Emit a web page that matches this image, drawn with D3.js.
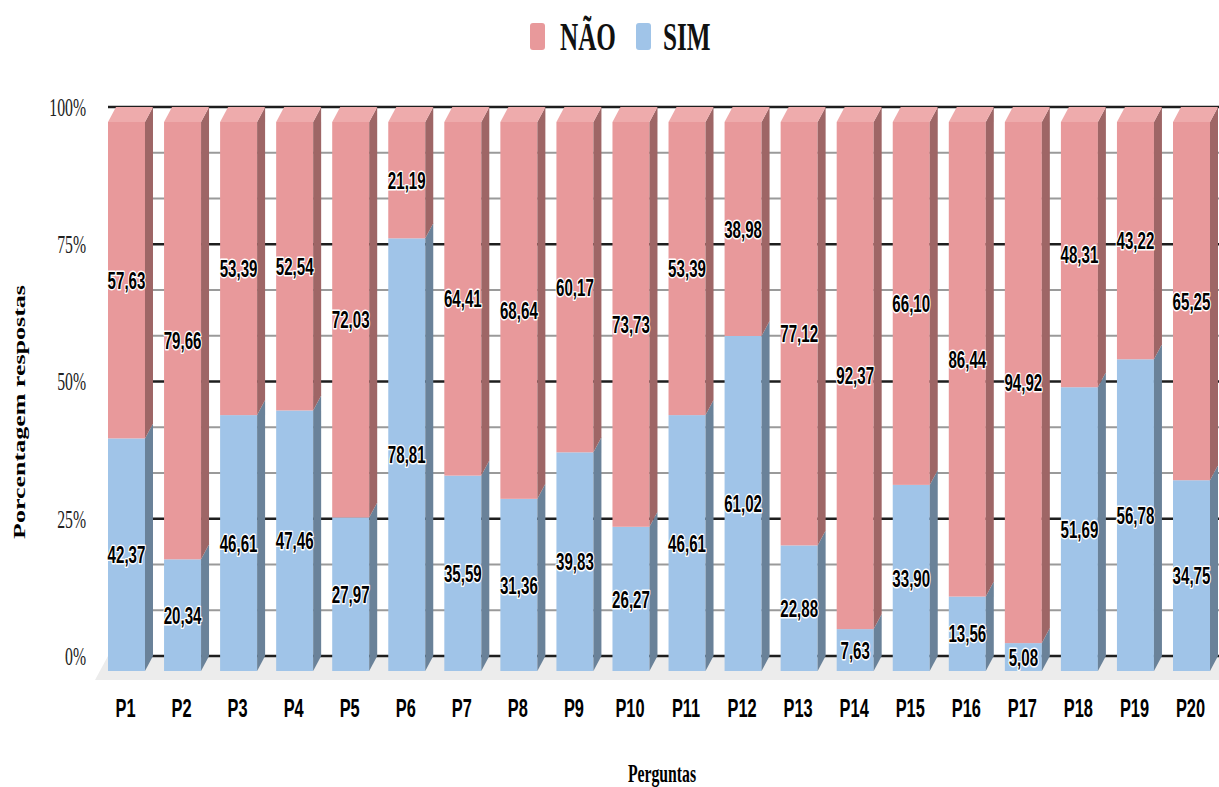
<!DOCTYPE html>
<html>
<head>
<meta charset="utf-8">
<script src="https://cdn.jsdelivr.net/npm/d3@7"></script>
<style>
  html, body { margin: 0; padding: 0; background: #fff; }
  svg { display: block; }
</style>
</head>
<body>
<svg id="chart" width="1219" height="787"></svg>
<script>
// Survey answers per question (percent of respondents)
const categories = ["P1","P2","P3","P4","P5","P6","P7","P8","P9","P10",
                    "P11","P12","P13","P14","P15","P16","P17","P18","P19","P20"];
const simValues = [42.37, 20.34, 46.61, 47.46, 27.97, 78.81, 35.59, 31.36, 39.83, 26.27,
                   46.61, 61.02, 22.88, 7.63, 33.90, 13.56, 5.08, 51.69, 56.78, 34.75];
const naoValues = [57.63, 79.66, 53.39, 52.54, 72.03, 21.19, 64.41, 68.64, 60.17, 73.73,
                   53.39, 38.98, 77.12, 92.37, 66.10, 86.44, 94.92, 48.31, 43.22, 65.25];
const seriesNames = ["NÃO", "SIM"];
const yTickValues = [0, 25, 50, 75, 100];
const yTickLabels = ["0%", "25%", "50%", "75%", "100%"];

const svg = d3.select("#chart");
const W = 1219;

// 3D depth offset of the bars
const DX = 8, DY = -15;
const SQ = 0.63; // horizontal squeeze applied to all text

const colors = {
  simFront: "#a0c4e8", simSide: "#6a8299",
  naoFront: "#e8999b", naoSide: "#9e6666", naoTop: "#eeabac"
};

const x = d3.scaleBand().domain(categories).range([108, 1210])
  .paddingInner(0.34).paddingOuter(0);
const y = d3.scaleLinear().domain([0, 100]).range([671, 122]);

// floor
const floorBack = y(0) + DY;
svg.append("polygon")
  .attr("points", [[95, 680], [W, 680], [W, floorBack], [108, floorBack]].join(" "))
  .attr("fill", "#ececec");

// gridlines on the back wall: major every 25%, minor in thirds between
const gridVals = d3.range(0, 13).map(i => i * 100 / 12);
svg.append("g").selectAll("line").data(gridVals).join("line")
  .attr("x1", 108).attr("x2", W)
  .attr("y1", d => y(d) + DY).attr("y2", d => y(d) + DY)
  .attr("stroke", (d, i) => i % 3 === 0 ? "#1e1e1e" : "#9a9a9a")
  .attr("stroke-width", (d, i) => i % 3 === 0 ? 2.5 : 2);

// y tick labels
svg.append("g").selectAll("text").data(yTickValues).join("text")
  .attr("transform", d => `translate(86,${y(d) + DY}) scale(${SQ},1)`)
  .attr("dy", "0.35em")
  .attr("text-anchor", "end")
  .attr("font-family", "'Liberation Serif', 'Times New Roman', serif")
  .attr("font-size", 25)
  .attr("fill", "#222")
  .text((d, i) => yTickLabels[i]);

// bars
const rows = categories.map((c, i) => ({ c, sim: simValues[i], nao: naoValues[i] }));
const bw = x.bandwidth();

function side(x1, yTop, yBot) {
  return [[x1, yTop], [x1 + DX, yTop + DY], [x1 + DX, yBot + DY], [x1, yBot]].join(" ");
}

const bars = svg.append("g").selectAll("g").data(rows).join("g");

bars.each(function (d) {
  const g = d3.select(this);
  const x0 = x(d.c), x1 = x0 + bw;
  const ySim = y(d.sim), yTop = y(d.sim + d.nao);
  // SIM segment
  g.append("rect").attr("x", x0).attr("y", ySim).attr("width", bw)
    .attr("height", y(0) - ySim).attr("fill", colors.simFront);
  g.append("polygon").attr("points", side(x1, ySim, y(0))).attr("fill", colors.simSide);
  // NÃO segment
  g.append("rect").attr("x", x0).attr("y", yTop).attr("width", bw)
    .attr("height", ySim - yTop).attr("fill", colors.naoFront);
  g.append("polygon").attr("points", side(x1, yTop, ySim)).attr("fill", colors.naoSide);
  g.append("polygon")
    .attr("points", [[x0, yTop], [x0 + DX, yTop + DY], [x1 + DX, yTop + DY], [x1, yTop]].join(" "))
    .attr("fill", colors.naoTop);
});

// value labels
const fmt = v => v.toFixed(2).replace(".", ",");
const labelData = [];
rows.forEach(d => {
  labelData.push({ c: d.c, v: d.sim, yc: (y(0) + y(d.sim)) / 2 });
  labelData.push({ c: d.c, v: d.nao, yc: (y(d.sim) + y(d.sim + d.nao)) / 2 });
});
svg.append("g").selectAll("text").data(labelData).join("text")
  .attr("transform", d => `translate(${x(d.c) + bw / 2},${d.yc}) scale(${SQ},1)`)
  .attr("dy", "0.36em")
  .attr("text-anchor", "middle")
  .attr("font-family", "'Liberation Sans', Arial, sans-serif")
  .attr("font-weight", "bold")
  .attr("font-size", 24)
  .attr("fill", "#000")
  .attr("stroke", "#fff")
  .attr("stroke-width", 3)
  .attr("stroke-linejoin", "round")
  .attr("paint-order", "stroke")
  .text(d => fmt(d.v));

// x category labels
svg.append("g").selectAll("text").data(categories).join("text")
  .attr("transform", d => `translate(${x(d) + bw / 2 - 1},717) scale(${SQ},1)`)
  .attr("text-anchor", "middle")
  .attr("font-family", "'Liberation Sans', Arial, sans-serif")
  .attr("font-weight", "bold")
  .attr("font-size", 26)
  .attr("fill", "#000")
  .text(d => d);

// axis titles
svg.append("text")
  .attr("transform", `translate(662,782) scale(${SQ},1)`)
  .attr("text-anchor", "middle")
  .attr("font-family", "'Liberation Serif', 'Times New Roman', serif")
  .attr("font-weight", "bold")
  .attr("font-size", 25)
  .attr("fill", "#000")
  .text("Perguntas");

svg.append("text")
  .attr("transform", `translate(25,412) rotate(-90) scale(1,${SQ})`)
  .attr("text-anchor", "middle")
  .attr("font-family", "'Liberation Serif', 'Times New Roman', serif")
  .attr("font-weight", "bold")
  .attr("font-size", 26)
  .attr("fill", "#000")
  .text("Porcentagem respostas");

// legend
const legend = [
  { name: seriesNames[0], color: colors.naoFront, sx: 530, tx: 560 },
  { name: seriesNames[1], color: colors.simFront, sx: 636, tx: 663 }
];
const lg = svg.append("g").selectAll("g").data(legend).join("g");
lg.append("rect")
  .attr("x", d => d.sx).attr("y", 23).attr("width", 15).attr("height", 27).attr("rx", 3)
  .attr("fill", d => d.color);
lg.append("text")
  .attr("transform", d => `translate(${d.tx},50) scale(${SQ},1)`)
  .attr("font-family", "'Liberation Serif', 'Times New Roman', serif")
  .attr("font-weight", "bold")
  .attr("font-size", 40)
  .attr("fill", "#111")
  .text(d => d.name);
</script>
</body>
</html>
